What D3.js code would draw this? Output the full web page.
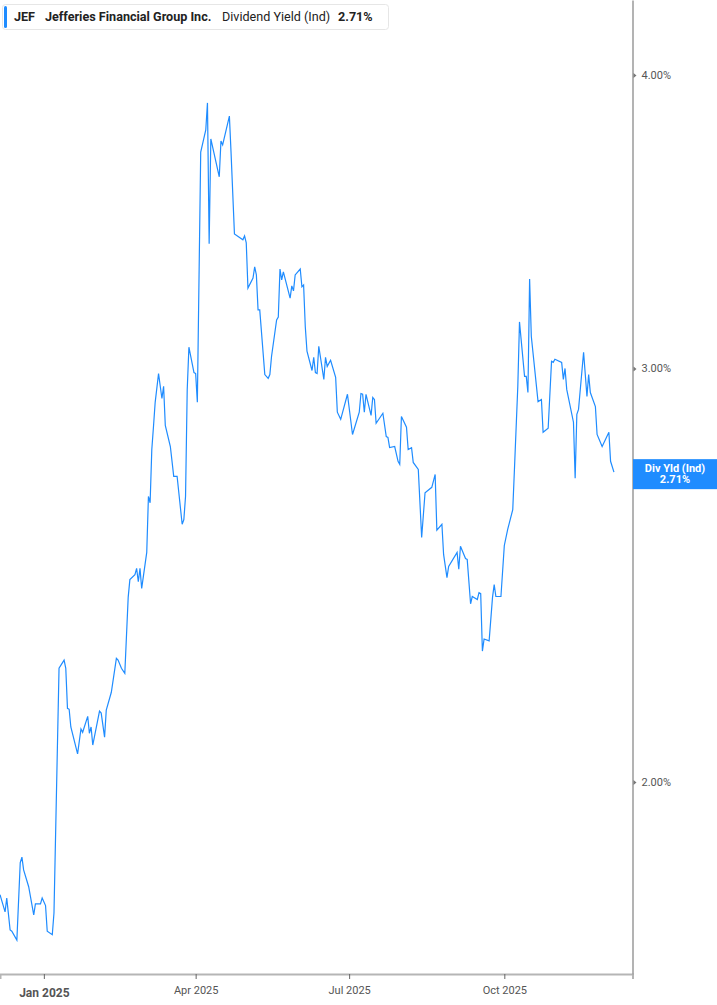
<!DOCTYPE html>
<html>
<head>
    <meta charset="utf-8">
    <title>JEF Dividend Yield (Ind)</title>
    <script src="https://d3js.org/d3.v7.min.js"></script>
    <style>
        body {
            margin: 0;
            padding: 0;
            background: #fff;
            font-family: Roboto, "Noto Sans", sans-serif;
        }
        .yield-line {
            fill: none;
            stroke: #1f8cff;
            stroke-width: 1.2;
        }
        .x-axis text {
            font-family: Roboto, sans-serif;
            font-size: 11px;
            fill: #555;
        }
        .y-axis text {
            font-family: Roboto, sans-serif;
            font-size: 11px;
            fill: #555;
        }
        .legend-text {
            font-family: Roboto, sans-serif;
            font-size: 12.6px;
            fill: #222;
        }
    </style>
</head>
<body>
    <svg id="chart" width="717" height="1005"></svg>
    <script>
        // dividend yield (%), one value per date
        const dates = [
            '2024-12-06', '2024-12-09', '2024-12-10', '2024-12-12', '2024-12-13', '2024-12-16', '2024-12-18', '2024-12-19', '2024-12-20', '2024-12-23',
            '2024-12-26', '2024-12-27', '2024-12-30', '2024-12-31', '2025-01-02', '2025-01-03', '2025-01-06', '2025-01-07', '2025-01-10', '2025-01-13',
            '2025-01-14', '2025-01-15', '2025-01-16', '2025-01-17', '2025-01-21', '2025-01-23', '2025-01-24', '2025-01-27', '2025-01-28', '2025-01-29',
            '2025-01-30', '2025-02-03', '2025-02-04', '2025-02-06', '2025-02-07', '2025-02-10', '2025-02-13', '2025-02-14', '2025-02-16', '2025-02-18',
            '2025-02-20', '2025-02-21', '2025-02-24', '2025-02-25', '2025-02-26', '2025-02-27', '2025-02-28', '2025-03-03', '2025-03-04', '2025-03-05',
            '2025-03-06', '2025-03-07', '2025-03-08', '2025-03-10', '2025-03-12', '2025-03-13', '2025-03-14', '2025-03-17', '2025-03-19', '2025-03-21',
            '2025-03-24', '2025-03-25', '2025-03-26', '2025-03-27', '2025-03-28', '2025-03-31', '2025-04-01', '2025-04-02', '2025-04-04', '2025-04-07',
            '2025-04-08', '2025-04-09', '2025-04-10', '2025-04-15', '2025-04-16', '2025-04-17', '2025-04-21', '2025-04-22', '2025-04-24', '2025-04-29',
            '2025-04-30', '2025-05-01', '2025-05-02', '2025-05-05', '2025-05-06', '2025-05-07', '2025-05-08', '2025-05-09', '2025-05-12', '2025-05-14',
            '2025-05-15', '2025-05-16', '2025-05-19', '2025-05-20', '2025-05-21', '2025-05-22', '2025-05-23', '2025-05-27', '2025-05-28', '2025-05-29',
            '2025-05-30', '2025-06-02', '2025-06-03', '2025-06-04', '2025-06-05', '2025-06-06', '2025-06-09', '2025-06-10', '2025-06-11', '2025-06-12',
            '2025-06-13', '2025-06-16', '2025-06-17', '2025-06-18', '2025-06-20', '2025-06-23', '2025-06-24', '2025-06-26', '2025-06-30', '2025-07-03',
            '2025-07-07', '2025-07-08', '2025-07-09', '2025-07-10', '2025-07-11', '2025-07-14', '2025-07-15', '2025-07-16', '2025-07-17', '2025-07-21',
            '2025-07-23', '2025-07-24', '2025-07-25', '2025-07-28', '2025-07-30', '2025-07-31', '2025-08-01', '2025-08-04', '2025-08-05', '2025-08-07',
            '2025-08-08', '2025-08-11', '2025-08-13', '2025-08-15', '2025-08-19', '2025-08-21', '2025-08-22', '2025-08-25', '2025-08-26', '2025-08-28',
            '2025-08-29', '2025-09-03', '2025-09-04', '2025-09-05', '2025-09-08', '2025-09-09', '2025-09-11', '2025-09-12', '2025-09-15', '2025-09-16',
            '2025-09-17', '2025-09-18', '2025-09-19', '2025-09-22', '2025-09-24', '2025-09-25', '2025-09-26', '2025-09-29', '2025-10-01', '2025-10-03',
            '2025-10-06', '2025-10-07', '2025-10-09', '2025-10-10', '2025-10-13', '2025-10-14', '2025-10-15', '2025-10-16', '2025-10-17', '2025-10-21',
            '2025-10-23', '2025-10-24', '2025-10-27', '2025-10-29', '2025-10-30', '2025-10-31', '2025-11-04', '2025-11-05', '2025-11-06', '2025-11-07',
            '2025-11-11', '2025-11-12', '2025-11-13', '2025-11-14', '2025-11-17', '2025-11-19', '2025-11-20', '2025-11-21', '2025-11-24', '2025-11-25',
            '2025-11-28', '2025-12-02', '2025-12-03', '2025-12-05'
        ];

        const yieldValues = [
            1.791, 1.761, 1.785, 1.730, 1.728, 1.713, 1.848, 1.858, 1.835, 1.805,
            1.756, 1.775, 1.775, 1.785, 1.772, 1.728, 1.722, 1.759, 2.236, 2.254,
            2.236, 2.150, 2.148, 2.111, 2.056, 2.107, 2.100, 2.133, 2.098, 2.111,
            2.074, 2.144, 2.140, 2.090, 2.146, 2.184, 2.258, 2.254, 2.236, 2.225,
            2.397, 2.439, 2.451, 2.466, 2.434, 2.466, 2.418, 2.505, 2.646, 2.630,
            2.771, 2.834, 2.902, 2.985, 2.913, 2.948, 2.837, 2.779, 2.699, 2.699,
            2.575, 2.587, 2.646, 2.939, 3.063, 2.988, 2.985, 2.902, 3.709, 3.790,
            3.892, 3.390, 3.757, 3.620, 3.749, 3.735, 3.842, 3.705, 3.423, 3.403,
            3.416, 3.393, 3.246, 3.278, 3.314, 3.288, 3.177, 3.177, 2.982, 2.971,
            2.982, 3.036, 3.146, 3.155, 3.307, 3.272, 3.298, 3.214, 3.253, 3.237,
            3.288, 3.307, 3.250, 3.256, 3.125, 3.051, 2.994, 3.033, 2.988, 2.985,
            3.066, 2.968, 3.033, 3.006, 3.024, 2.974, 2.874, 2.854, 2.925, 2.812,
            2.874, 2.927, 2.925, 2.874, 2.925, 2.865, 2.916, 2.910, 2.843, 2.871,
            2.806, 2.804, 2.776, 2.779, 2.739, 2.731, 2.862, 2.832, 2.771, 2.776,
            2.736, 2.717, 2.542, 2.656, 2.670, 2.704, 2.560, 2.575, 2.500, 2.444,
            2.471, 2.505, 2.464, 2.520, 2.490, 2.488, 2.382, 2.399, 2.392, 2.408,
            2.406, 2.274, 2.301, 2.297, 2.397, 2.427, 2.399, 2.399, 2.522, 2.562,
            2.612, 2.717, 2.948, 3.140, 2.977, 2.977, 2.930, 3.275, 3.096, 2.904,
            2.910, 2.818, 2.829, 3.021, 3.018, 3.027, 3.018, 2.968, 3.000, 2.939,
            2.846, 2.694, 2.868, 2.882, 3.048, 2.919, 2.982, 2.930, 2.890, 2.812,
            2.779, 2.818, 2.739, 2.710
        ];

        const yTicks = [2, 3, 4];
        const xTickDates = ['2025-01-01', '2025-04-01', '2025-07-01', '2025-10-01'];

        const parseDate = d3.timeParse('%Y-%m-%d');
        const data = dates.map((d, i) => ({ date: parseDate(d), value: yieldValues[i] }));
        const lastPoint = data[data.length - 1];

        const svg = d3.select('#chart');
        const plotRight = 632.5;   // right axis line
        const plotBottom = 974;    // bottom axis line

        // x: time, a bit of empty room after the last point
        const x = d3.scaleTime()
            .domain([data[0].date, d3.timeDay.offset(lastPoint.date, 11)])
            .range([0, plotRight]);

        // y: log scale, like the source chart
        const y = d3.scaleLog()
            .domain([1.657, 4.305])
            .range([plotBottom, 0]);

        // line
        const line = d3.line()
            .x(d => x(d.date))
            .y(d => y(d.value));

        svg.append('path')
            .datum(data)
            .attr('class', 'yield-line')
            .attr('d', line);

        // bottom axis
        const xAxis = svg.append('g')
            .attr('class', 'x-axis')
            .attr('transform', `translate(0,${plotBottom})`)
            .call(d3.axisBottom(x)
                .tickValues(xTickDates.map(parseDate))
                .tickFormat(d3.timeFormat('%b %Y'))
                .tickSizeOuter(0)
                .tickSize(5)
                .tickPadding(7));
        xAxis.select('.domain').attr('stroke', '#b5b5b5').attr('stroke-width', 2);
        xAxis.selectAll('.tick line').attr('stroke', '#666');
        xAxis.selectAll('.tick text')
            .filter((d, i) => i === 0)
            .style('font-weight', 'bold')
            .style('font-size', '12px')
            .attr('dy', '0.95em');

        // right axis
        const yAxis = svg.append('g')
            .attr('class', 'y-axis')
            .attr('transform', `translate(${plotRight},0)`)
            .call(d3.axisRight(y)
                .tickValues(yTicks)
                .tickFormat(d => d.toFixed(2) + '%')
                .tickSize(0)
                .tickSizeOuter(0)
                .tickPadding(9));
        yAxis.select('.domain').attr('stroke', '#9a9a9a').attr('stroke-width', 1.5);
        yAxis.selectAll('.tick')
            .append('path')
            .attr('d', 'M1,-2.5L4,0L1,2.5Z')
            .attr('fill', '#777');

        // last value tag on the right axis
        const tagY = y(lastPoint.value);
        const tag = svg.append('g');
        tag.append('rect')
            .attr('x', plotRight + 0.5)
            .attr('y', tagY - 13)
            .attr('width', 717 - plotRight)
            .attr('height', 30)
            .attr('fill', '#1f8cff');
        tag.append('text')
            .attr('x', 675)
            .attr('y', tagY)
            .attr('text-anchor', 'middle')
            .attr('fill', '#fff')
            .style('font-family', 'Roboto, sans-serif')
            .style('font-size', '11px')
            .style('font-weight', 'bold')
            .text('Div Yld (Ind)');
        tag.append('text')
            .attr('x', 675)
            .attr('y', tagY + 11)
            .attr('text-anchor', 'middle')
            .attr('fill', '#fff')
            .style('font-family', 'Roboto, sans-serif')
            .style('font-size', '11px')
            .style('font-weight', 'bold')
            .text(lastPoint.value.toFixed(2) + '%');

        // legend box at the top left
        const legend = svg.append('g');
        legend.append('rect')
            .attr('x', 2.5)
            .attr('y', 4.5)
            .attr('width', 386)
            .attr('height', 25)
            .attr('rx', 3)
            .attr('fill', '#fff')
            .attr('stroke', '#e6e6e6');
        legend.append('rect')
            .attr('x', 4)
            .attr('y', 6)
            .attr('width', 3)
            .attr('height', 22)
            .attr('rx', 1.5)
            .attr('fill', '#1f8cff');

        const legendParts = [
            { text: 'JEF', x: 14, bold: true },
            { text: 'Jefferies Financial Group Inc.', x: 45, bold: true },
            { text: 'Dividend Yield (Ind)', x: 222, bold: false },
            { text: lastPoint.value.toFixed(2) + '%', x: 338, bold: true }
        ];
        legend.selectAll('text.legend-text')
            .data(legendParts)
            .join('text')
            .attr('class', 'legend-text')
            .attr('x', d => d.x)
            .attr('y', 21)
            .style('font-weight', d => d.bold ? 'bold' : 'normal')
            .text(d => d.text);
    </script>
</body>
</html>
